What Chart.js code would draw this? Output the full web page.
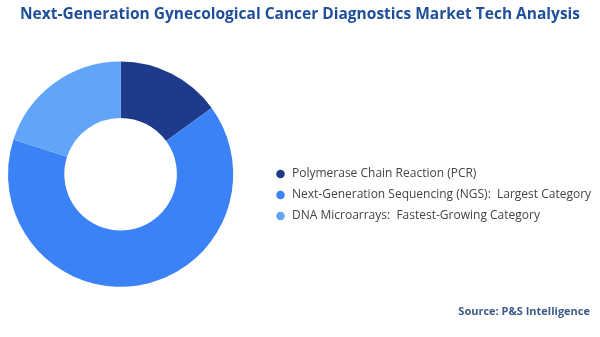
<!DOCTYPE html>
<html lang="en">
  <head>
    <meta charset="UTF-8" />
    <title>Gynecological Cancer Diagnostics Market Tech Analysis</title>
    <script src="https://cdn.jsdelivr.net/npm/chart.js"></script>
    <style>
      html, body { margin: 0; background: #fff; }
      #wrap { width: 600px; height: 337px; }
    </style>
  </head>
  <body>
    <div id="wrap"><canvas id="techChart"></canvas></div>
    <script>
      // data
      const categories = [
        "Polymerase Chain Reaction (PCR)",
        "Next-Generation Sequencing (NGS):  Largest Category",
        "DNA Microarrays:  Fastest-Growing Category",
      ];
      const shares = [15, 65, 20];
      const sliceColors = ["#1e3a8a", "#3b82f6", "#60a5fa"];

      const fontFamily = "'Open Sans', 'DejaVu Sans', sans-serif";

      // doughnut sits on the left, legend block to the right of it
      const placeBoxes = {
        id: "placeBoxes",
        afterLayout(chart) {
          const area = chart.chartArea;
          const size = area.bottom - area.top;
          area.left = 8;
          area.right = area.left + size;
          area.width = size;

          const lg = chart.legend;
          const dy = 159 - lg.top;
          lg.left = 266;
          lg.right = 600;
          lg.width = lg.right - lg.left;
          lg.top += dy;
          lg.bottom += dy;
        },
      };

      const ctx = document.getElementById("techChart").getContext("2d");
      new Chart(ctx, {
        type: "doughnut",
        data: {
          labels: categories,
          datasets: [
            {
              data: shares,
              backgroundColor: sliceColors,
              borderWidth: 0,
            },
          ],
        },
        options: {
          responsive: true,
          maintainAspectRatio: false,
          animation: false,
          cutout: "50%",
          layout: { padding: { left: 10, right: 10 } },
          plugins: {
            title: {
              display: true,
              text: "Next-Generation Gynecological Cancer Diagnostics Market Tech Analysis",
              color: "#1f4e9b",
              font: { family: fontFamily, size: 15.5, weight: "bold", lineHeight: 1.2 },
              padding: { top: 5, bottom: 38 },
            },
            subtitle: {
              display: true,
              position: "bottom",
              align: "end",
              text: "Source: P&S Intelligence",
              color: "#3d5a8c",
              font: { family: fontFamily, size: 11, weight: "bold", lineHeight: 1.2 },
              padding: { top: 18, bottom: 19 },
            },
            legend: {
              position: "right",
              align: "start",
              labels: {
                usePointStyle: true,
                pointStyle: "circle",
                boxWidth: 11,
                boxHeight: 6,
                padding: 9,
                color: "#444444",
                font: { family: fontFamily, size: 12 },
              },
            },
            tooltip: { enabled: false },
          },
        },
        plugins: [placeBoxes],
      });
    </script>
  </body>
</html>
